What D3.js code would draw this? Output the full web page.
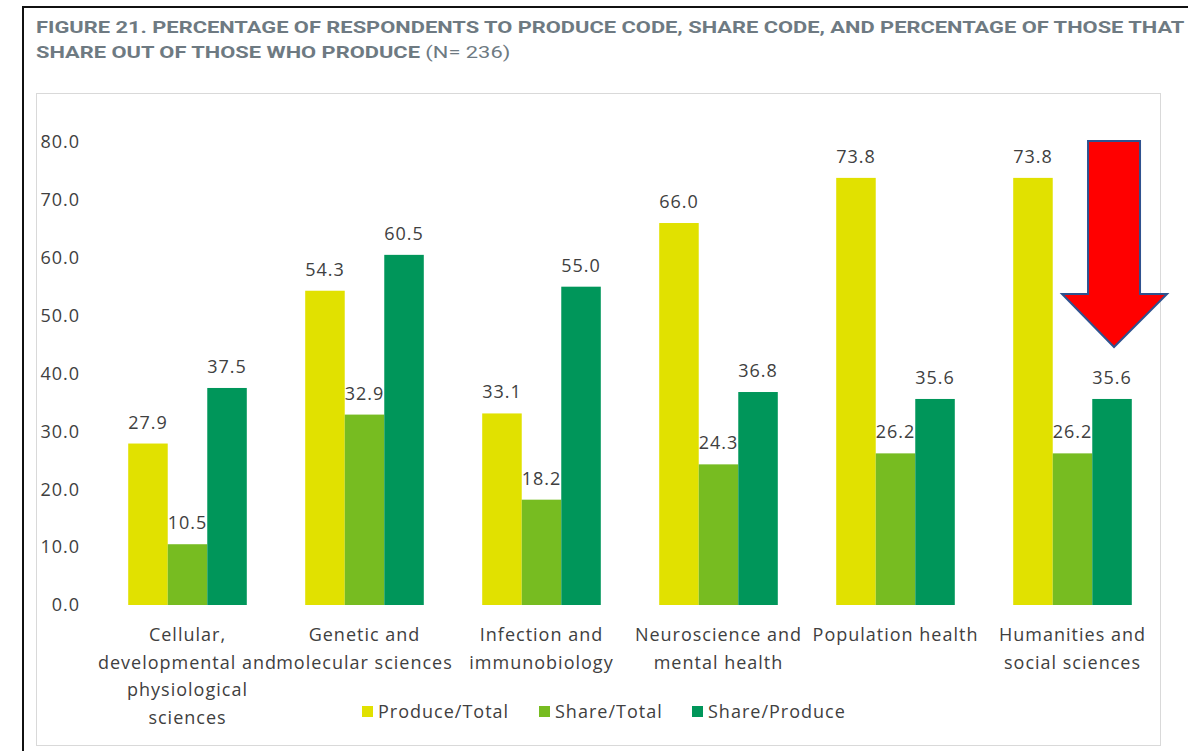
<!DOCTYPE html>
<html>
<head>
<meta charset="utf-8">
<script src="https://cdn.jsdelivr.net/npm/d3@7"></script>
<style>
  body { margin: 0; background: #fff; }
  svg { display: block; }
</style>
</head>
<body>
<div id="chart"></div>
<script>
// data
const categories = [
    ["Cellular,", "developmental and", "physiological", "sciences"],
    ["Genetic and", "molecular sciences"],
    ["Infection and", "immunobiology"],
    ["Neuroscience and", "mental health"],
    ["Population health"],
    ["Humanities and", "social sciences"]
];
const seriesNames = ["Produce/Total", "Share/Total", "Share/Produce"];
const produceTotal = [27.9, 54.3, 33.1, 66.0, 73.8, 73.8];
const shareTotal = [10.5, 32.9, 18.2, 24.3, 26.2, 26.2];
const shareProduce = [37.5, 60.5, 55.0, 36.8, 35.6, 35.6];
const yTicks = [0, 10, 20, 30, 40, 50, 60, 70, 80];
const titleLines = ["FIGURE 21. PERCENTAGE OF RESPONDENTS TO PRODUCE CODE, SHARE CODE, AND PERCENTAGE OF THOSE THAT",
                    "SHARE OUT OF THOSE WHO PRODUCE"];
const titleNote = " (N= 236)";

const colors = ["#e1e100", "#77bc21", "#00965a"];
const textColor = "#404040";
const labelFont = "'Open Sans', sans-serif";
const labelSize = 18;
const labelSpacing = 1;

const width = 1188, height = 751;

const svg = d3.select("#chart").append("svg")
    .attr("width", width)
    .attr("height", height);

// outer frame (cut off right/bottom in the screenshot)
svg.append("line").attr("x1", 22).attr("x2", width).attr("y1", 7).attr("y2", 7)
    .attr("stroke", "#111").attr("stroke-width", 2);
svg.append("line").attr("x1", 23).attr("x2", 23).attr("y1", 6).attr("y2", height)
    .attr("stroke", "#111").attr("stroke-width", 2);

// title, stretched to the width it has in the original
const title = svg.append("g").attr("font-family", "Roboto, Arial, sans-serif")
    .attr("font-size", 16.5).attr("fill", "#6e7a82");
const t1 = title.append("text").attr("x", 0).attr("y", 33).attr("font-weight", "bold").text(titleLines[0]);
const t2 = title.append("text").attr("x", 0).attr("y", 58);
t2.append("tspan").attr("font-weight", "bold").text(titleLines[1]);
t2.append("tspan").text(titleNote);
const sx = 1149 / t1.node().getComputedTextLength();
title.attr("transform", `translate(36,0) scale(${sx},1)`);

// chart area box
svg.append("rect").attr("x", 36.5).attr("y", 93.5).attr("width", 1124).attr("height", 652)
    .attr("fill", "none").attr("stroke", "#d9d9d9");

const y = d3.scaleLinear().domain([0, 80]).range([605, 142]);
const x0 = d3.scaleBand().domain(d3.range(categories.length))
    .range([99, 1161]).paddingInner(0.33).paddingOuter(0.165);
const x1 = d3.scaleBand().domain(seriesNames).range([0, x0.bandwidth()]);

function labelStyle(sel) {
    sel.attr("font-family", labelFont)
        .attr("font-size", labelSize)
        .attr("letter-spacing", labelSpacing)
        .attr("fill", textColor);
}

// y axis labels only
const yAxis = d3.axisLeft(y).tickValues(yTicks).tickFormat(d3.format(".1f")).tickSize(0).tickPadding(0);
const ya = svg.append("g").attr("transform", "translate(80,0)").call(yAxis);
ya.select(".domain").remove();
ya.selectAll("text").call(labelStyle);

const table = categories.map((c, i) => ({
    i: i,
    values: [produceTotal[i], shareTotal[i], shareProduce[i]]
}));

const groups = svg.append("g").selectAll("g")
    .data(table)
    .join("g")
    .attr("transform", d => `translate(${x0(d.i)},0)`);

groups.selectAll("rect")
    .data(d => d.values.map((v, k) => ({ k: k, v: v })))
    .join("rect")
    .attr("x", d => x1(seriesNames[d.k]))
    .attr("width", x1.bandwidth())
    .attr("y", d => y(d.v))
    .attr("height", d => y(0) - y(d.v))
    .attr("fill", d => colors[d.k]);

groups.selectAll("text.val")
    .data(d => d.values.map((v, k) => ({ k: k, v: v })))
    .join("text")
    .attr("class", "val")
    .attr("x", d => x1(seriesNames[d.k]) + x1.bandwidth() / 2)
    .attr("y", d => y(d.v) - 15)
    .attr("text-anchor", "middle")
    .call(labelStyle)
    .text(d => d3.format(".1f")(d.v));

// category labels
const catLabels = svg.append("g");
categories.forEach((lines, i) => {
    const t = catLabels.append("text")
        .attr("text-anchor", "middle")
        .call(labelStyle);
    lines.forEach((ln, j) => {
        t.append("tspan")
            .attr("x", x0(i) + x0.bandwidth() / 2)
            .attr("y", 641 + j * 27.5)
            .text(ln);
    });
});

// legend
const legendX = [362, 539, 692];
const legend = svg.append("g");
seriesNames.forEach((s, k) => {
    legend.append("rect").attr("x", legendX[k]).attr("y", 706).attr("width", 11).attr("height", 11)
        .attr("fill", colors[k]);
    legend.append("text").attr("x", legendX[k] + 16).attr("y", 718)
        .call(labelStyle)
        .text(s);
});

// red arrow annotation pointing at the last Share/Produce bar
const ax = x0(5) + x1("Share/Produce") + x1.bandwidth() / 2 + 2;
const tipY = y(shareProduce[5]) - 52;
const topY = y(80) - 1;
const shoulderY = tipY - 53;
const arrow = [
    [ax - 26, topY], [ax + 26, topY], [ax + 26, shoulderY], [ax + 53, shoulderY],
    [ax, tipY], [ax - 52, shoulderY], [ax - 26, shoulderY]
];
svg.append("polygon")
    .attr("points", arrow.map(p => p.join(",")).join(" "))
    .attr("fill", "#ff0000")
    .attr("stroke", "#2f528f")
    .attr("stroke-width", 2);
</script>
</body>
</html>
